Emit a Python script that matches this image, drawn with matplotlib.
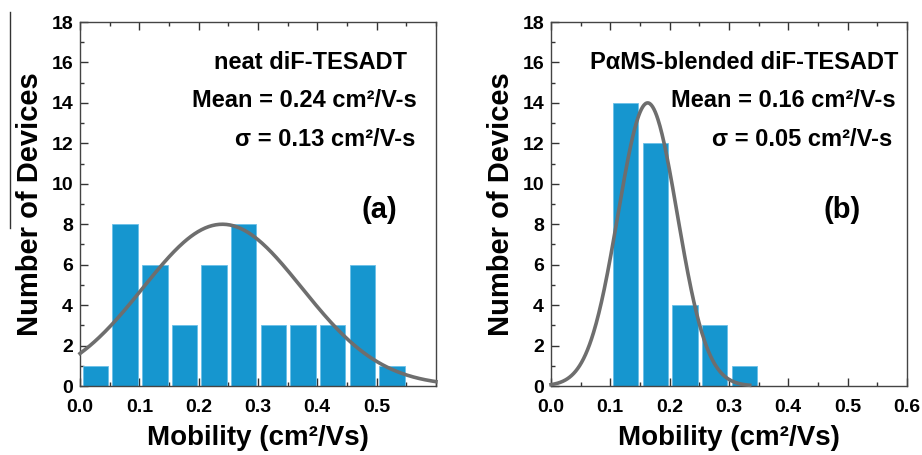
import numpy as np
import matplotlib
matplotlib.use("Agg")
import matplotlib.pyplot as plt
from matplotlib.ticker import MultipleLocator
from matplotlib.lines import Line2D

plt.rcParams["font.family"] = ["Liberation Sans", "DejaVu Sans"]
plt.rcParams["font.weight"] = "bold"

# bin left edges (cm^2/Vs) and device counts
bins_a = [0.00, 0.05, 0.10, 0.15, 0.20, 0.25, 0.30, 0.35, 0.40, 0.45, 0.50]
counts_a = [1, 8, 6, 3, 6, 8, 3, 3, 3, 6, 1]
bins_b = [0.10, 0.15, 0.20, 0.25, 0.30]
counts_b = [14, 12, 4, 3, 1]

# gaussian fit parameters
fit_a = dict(mean=0.24, sigma=0.134, peak=8.0, xmax=0.6)
fit_b = dict(mean=0.163, sigma=0.05, peak=14.0, xmax=0.335)

labels_a = ["neat diF-TESADT", "Mean = 0.24 cm²/V-s", "σ = 0.13 cm²/V-s"]
labels_b = ["PαMS-blended diF-TESADT", "Mean = 0.16 cm²/V-s", "σ = 0.05 cm²/V-s"]

bar_color = "#1696cf"
curve_color = "#6e6e6e"

fig = plt.figure(figsize=(9.22, 4.55), dpi=100)
ax_a = fig.add_axes([0.0868, 0.1516, 0.386, 0.80])
ax_b = fig.add_axes([0.5976, 0.1516, 0.386, 0.80])


def draw(ax, bins, counts, fit, labels, tag, xticks, text_x, tag_x):
    ax.bar(np.array(bins) + 0.026, counts, width=0.043, color=bar_color,
           edgecolor="#6cc0e8", linewidth=0.6, zorder=2)
    x = np.linspace(0, fit["xmax"], 300)
    y = fit["peak"] * np.exp(-(x - fit["mean"]) ** 2 / (2 * fit["sigma"] ** 2))
    ax.plot(x, y, color=curve_color, lw=2.6, zorder=3, clip_on=False)
    ax.set_xlim(0, 0.6)
    ax.set_ylim(0, 18)
    ax.set_xticks(xticks)
    ax.set_xticklabels([f"{t:.1f}" for t in xticks])
    ax.xaxis.set_minor_locator(MultipleLocator(0.05))
    ax.yaxis.set_major_locator(MultipleLocator(2))
    ax.yaxis.set_minor_locator(MultipleLocator(1))
    ax.tick_params(which="both", direction="in", top=True, right=False,
                   width=1, colors="#333333", labelcolor="black")
    ax.tick_params(which="major", length=6, labelsize=14)
    ax.tick_params(axis="x", which="major", pad=9)
    ax.tick_params(axis="y", which="major", pad=5)
    ax.tick_params(which="minor", length=3)
    for s in ax.spines.values():
        s.set_color("#444444")
        s.set_linewidth(1.0)
    ax.set_ylabel("Number of Devices", fontsize=21, fontweight="bold", labelpad=5)
    ax.set_xlabel("Mobility (cm²/Vs)", fontsize=20, fontweight="bold", labelpad=7)
    for (txt, yy, xx) in zip(labels, [16.0, 14.1, 12.2], text_x):
        ax.text(xx, yy, txt, ha="right", va="center", fontsize=17,
                fontweight="bold")
    ax.text(tag_x, 8.7, tag, ha="center", va="center", fontsize=21,
            fontweight="bold")


draw(ax_a, bins_a, counts_a, fit_a, labels_a, "(a)",
     [0.0, 0.1, 0.2, 0.3, 0.4, 0.5], [0.551, 0.568, 0.565], 0.505)
draw(ax_b, bins_b, counts_b, fit_b, labels_b, "(b)",
     [0.0, 0.1, 0.2, 0.3, 0.4, 0.5, 0.6], [0.585, 0.581, 0.576], 0.49)

# thin crop line at the left edge of the original figure
fig.add_artist(Line2D([10 / 922, 10 / 922], [1 - 12 / 455, 1 - 228 / 455],
                      color="#333333", lw=1))

fig.savefig("out.png", dpi=100)
